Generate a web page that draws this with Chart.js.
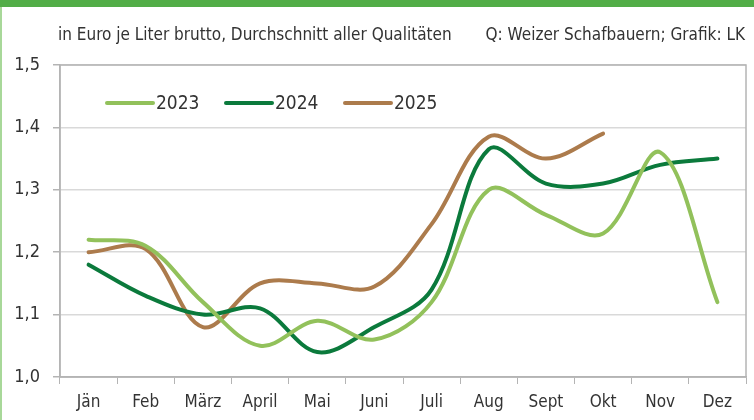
<!DOCTYPE html>
<html>
<head>
<meta charset="utf-8">
<script src="https://cdn.jsdelivr.net/npm/chart.js@4.4.1/dist/chart.umd.min.js"></script>
<style>
  html, body { margin: 0; padding: 0; background: #fff; }
  #wrap { position: relative; width: 754px; height: 420px; overflow: hidden; }
  #topbar { position: absolute; left: 0; top: 0; width: 754px; height: 7px; background: #52ad47; }
  #leftbar { position: absolute; left: 0; top: 7px; width: 2px; height: 413px; background: #a8d899; }
  .note { position: absolute; top: 24px; font-size: 17px; color: #333;
          font-family: 'Liberation Sans Narrow', 'DejaVu Sans Condensed', sans-serif; white-space: nowrap; }
  #unit { left: 58px; }
  #source { right: 9px; }
  #chart { position: absolute; left: 0; top: 0; }
</style>
</head>
<body>
<div id="wrap">
  <canvas id="chart" width="754" height="420"></canvas>
  <div id="topbar"></div>
  <div id="leftbar"></div>
  <div class="note" id="unit">in Euro je Liter brutto, Durchschnitt aller Qualitäten</div>
  <div class="note" id="source">Q: Weizer Schafbauern; Grafik: LK</div>
</div>
<script>
const FONT = "'Liberation Sans Narrow', 'DejaVu Sans Condensed', sans-serif";

const months = ['Jän', 'Feb', 'März', 'April', 'Mai', 'Juni', 'Juli', 'Aug', 'Sept', 'Okt', 'Nov', 'Dez'];
const price2023 = [1.22, 1.21, 1.12, 1.05, 1.09, 1.06, 1.12, 1.30, 1.26, 1.23, 1.36, 1.12];
const price2024 = [1.18, 1.13, 1.10, 1.11, 1.04, 1.08, 1.14, 1.365, 1.31, 1.31, 1.34, 1.35];
const price2025 = [1.20, 1.205, 1.08, 1.15, 1.15, 1.145, 1.245, 1.385, 1.35, 1.39];
const yMin = 1.0, yMax = 1.5, yStep = 0.1;

// plot frame (top + right border of the plot box)
const plotFrame = {
    id: 'plotFrame',
    beforeDatasetsDraw(chart) {
        let a = chart.chartArea, ctx = chart.ctx;
        ctx.save();
        ctx.strokeStyle = '#b4b4b4';
        ctx.lineWidth = 1.5;
        ctx.strokeRect(a.left, a.top, a.right - a.left, a.bottom - a.top);
        ctx.restore();
    }
};

// legend drawn inside the plot, top left
const innerLegend = {
    id: 'innerLegend',
    afterDatasetsDraw(chart) {
        let a = chart.chartArea, ctx = chart.ctx;
        let y = a.top + 38;
        ctx.save();
        ctx.font = '19px ' + FONT;
        ctx.textBaseline = 'middle';
        chart.data.datasets.forEach((ds, i) => {
            let x = a.left + 47 + i * 119;
            ctx.strokeStyle = ds.borderColor;
            ctx.lineWidth = 4;
            ctx.lineCap = 'round';
            ctx.beginPath();
            ctx.moveTo(x, y);
            ctx.lineTo(x + 46, y);
            ctx.stroke();
            ctx.fillStyle = '#333';
            ctx.fillText(ds.label, x + 49, y + 1);
        });
        ctx.restore();
    }
};

new Chart(document.getElementById('chart'), {
    type: 'line',
    data: {
        labels: months,
        datasets: [{
            label: '2023',
            data: price2023,
            borderColor: '#92c15b',
        }, {
            label: '2024',
            data: price2024,
            borderColor: '#0b7a3c',
        }, {
            label: '2025',
            data: price2025,
            borderColor: '#ac7b4c',
        }]
    },
    options: {
        responsive: false,
        animation: false,
        layout: { padding: { top: 65, right: 8, left: 0, bottom: 0 } },
        elements: {
            line: { borderWidth: 4, tension: 0.35, borderCapStyle: 'round', fill: false },
            point: { radius: 0 }
        },
        scales: {
            x: {
                offset: true,
                grid: { offset: true, drawOnChartArea: false, tickLength: 7, tickColor: '#b4b4b4' },
                border: { color: '#b4b4b4', width: 1.5 },
                ticks: { color: '#333', padding: 8, font: { family: FONT, size: 17 }, maxRotation: 0 },
                afterFit: scale => { scale.height = 43; }
            },
            y: {
                min: yMin,
                max: yMax,
                grid: { color: '#d9d9d9', lineWidth: 1.5, tickLength: 7, tickColor: '#b4b4b4' },
                border: { color: '#b4b4b4', width: 1.5 },
                ticks: {
                    stepSize: yStep,
                    color: '#333',
                    padding: 13,
                    font: { family: FONT, size: 18 },
                    callback: v => v.toFixed(1).replace('.', ',')
                },
                afterFit: scale => { scale.width = 60; }
            }
        },
        plugins: {
            legend: { display: false },
            tooltip: { enabled: false }
        }
    },
    plugins: [plotFrame, innerLegend]
});
</script>
</body>
</html>
